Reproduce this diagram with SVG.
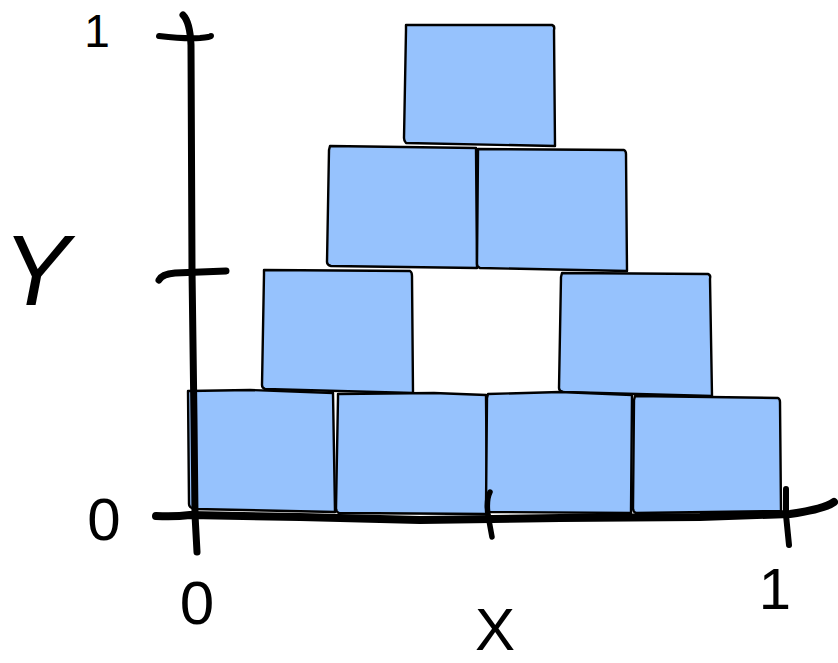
<svg xmlns="http://www.w3.org/2000/svg" width="838" height="663" viewBox="0 0 838 663">
<style>
.box path{fill:#96c2fd;stroke:#000;stroke-width:2.4;stroke-linejoin:round;stroke-linecap:round}
.ax{fill:none;stroke:#000;stroke-linecap:round;stroke-linejoin:round}
.lbl{font-family:"Liberation Sans",Arial,sans-serif;fill:#000}
</style>
<rect width="838" height="663" fill="#fff"/>
<g id="boxes" class="box">
<g id="b-top"><path d="M406,25 L552,25 Q555,26 554,30 L555,146 L406,143 Q404,141 404,138 L406,30 Z"/></g>
<g id="b-r2-left"><path d="M330,146 L476,148 L477,268 L331,266 Q327,265 327,262 L329,150 Z"/></g>
<g id="b-r2-right"><path d="M478,149 L624,150 Q626,151 626,154 L627,271 L480,268 Q477,267 477,264 L478,152 Z"/></g>
<g id="b-r3-left"><path d="M264,270 L410,271 Q412,272 412,276 L413,393 L265,389 Q262,388 262,385 L264,274 Z"/></g>
<g id="b-r3-right"><path d="M562,273 L708,274 Q711,275 710,279 L712,396 L563,392 Q559,391 559,388 L561,277 Z"/></g>
<g id="b-r4-1"><path d="M188,391 L250,390 L333,393 L335,512 L195,509 Q189,508 189,504 Z"/></g>
<g id="b-r4-2"><path d="M338,394 L434,393 L486,395 L487,514 L339,513 Q336,512 336,508 L338,398 Z"/></g>
<g id="b-r4-3"><path d="M488,394 L560,392 L632,395 L631,513 L490,512 Q486,511 486,507 L487,398 Z"/></g>
<g id="b-r4-4"><path d="M635,396 L778,398 Q780,399 780,402 L781,511 L636,513 Q633,512 633,508 L634,400 Z"/></g>
</g>
<g id="axes">
<g id="y-axis">
<path class="ax" d="M183,15 Q190,22 191,45 L192,270 L194,420 L195,515 L197,552" stroke-width="7"/>
<path class="ax" d="M159,36 Q185,39 200,38 Q211,37 211,36" stroke-width="6"/>
<path class="ax" d="M159,280 Q162,274 175,273 L226,271" stroke-width="7"/>
</g>
<g id="x-axis">
<path class="ax" d="M156,516 Q175,517 190,515 L300,517 L420,520 L560,518 L700,517 L790,514 Q825,509 834,502" stroke-width="8"/>
<path class="ax" d="M490,492 Q486,500 488,515 L492,537" stroke-width="5.5"/>
<path class="ax" d="M786,489 L786,515 L789,545" stroke-width="6"/>
</g>
</g>
<g id="labels">
<text class="lbl" x="97" y="47" font-size="46" text-anchor="middle">1</text>
<text class="lbl" x="36" y="305" font-size="100" text-anchor="middle" font-style="italic">Y</text>
<text class="lbl" x="104" y="540" font-size="60" text-anchor="middle">0</text>
<text class="lbl" x="197" y="624" font-size="62" text-anchor="middle">0</text>
<text class="lbl" x="495" y="650" font-size="60" text-anchor="middle">X</text>
<text class="lbl" x="775" y="609" font-size="58" text-anchor="middle">1</text>
</g>
</svg>
